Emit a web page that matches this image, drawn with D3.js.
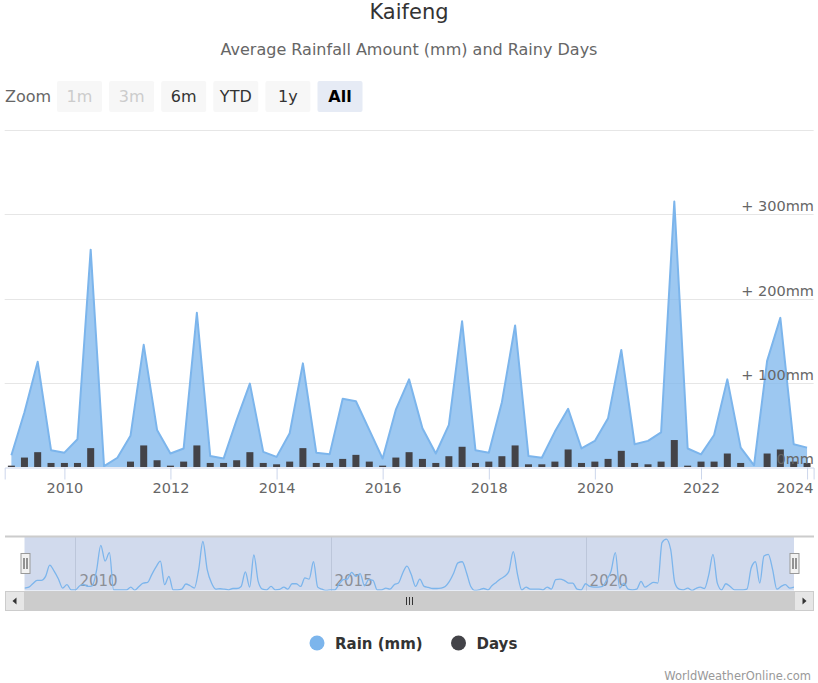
<!DOCTYPE html>
<html>
<head>
<meta charset="utf-8">
<script src="https://cdn.jsdelivr.net/npm/d3@7"></script>
<style>
  html, body { margin: 0; padding: 0; background: #fff; }
  svg { display: block; font-family: "DejaVu Sans", Verdana, sans-serif; }
</style>
</head>
<body>
<div id="chart"></div>
<script>
// ---- Data -------------------------------------------------------------
// quarterly points, Jan 2009 .. Jan 2024
const rainMm = [14, 65, 125, 20, 17, 33, 258, 1, 11, 37, 145, 44, 16, 22, 183,
  13, 10, 56, 99, 18, 12, 40, 123, 17, 15, 81, 78, 44, 10, 68, 104, 46, 16, 50,
  173, 20, 17, 77, 168, 13, 11, 42, 69, 22, 31, 58, 139, 27, 31, 41, 315, 22, 15,
  38, 104, 23, 2, 126, 177, 27, 23];
const rainyDays = [1, 7, 11, 3, 3, 3, 14, 0, 0, 4, 16, 5, 1, 4, 16, 3, 3, 5, 11,
  3, 2, 4, 14, 3, 3, 6, 9, 4, 1, 7, 11, 6, 3, 8, 15, 3, 4, 8, 16, 2, 2, 4, 13, 3,
  4, 6, 12, 3, 2, 4, 20, 1, 4, 4, 10, 3, 0, 10, 13, 4, 3];
// monthly rain shown in the navigator, Jan 2009 .. Feb 2024
const navRainMm = [
  18, 25, 50, 75, 75, 105, 188, 143, 85, 18, 43, 5,
  5, 35, 43, 30, 35, 150, 335, 218, 280, 5, 5, 5,
  5, 25, 3, 30, 55, 60, 118, 175, 218, 43, 105, 5,
  5, 10, 48, 35, 18, 155, 363, 155, 55, 10, 13, 10,
  5, 15, 15, 30, 138, 25, 263, 68, 10, 5, 30, 5,
  8, 25, 10, 50, 50, 30, 93, 85, 213, 25, 10, 0,
  5, 5, 43, 80, 85, 135, 105, 125, 35, 80, 75, 5,
  5, 18, 10, 43, 55, 130, 180, 118, 30, 85, 30, 23,
  15, 15, 18, 30, 68, 130, 205, 213, 130, 30, 0, 5,
  15, 5, 35, 60, 85, 105, 143, 288, 118, 5, 25, 10,
  10, 10, 5, 25, 10, 80, 85, 75, 55, 55, 10, 5,
  50, 30, 25, 25, 30, 80, 143, 280, 18, 55, 10, 5,
  10, 68, 25, 43, 60, 55, 355, 380, 305, 55, 10, 5,
  18, 0, 15, 25, 15, 118, 268, 55, 5, 50, 30, 5,
  5, 5, 10, 168, 213, 55, 255, 268, 155, 10, 30, 43,
  18, 25
];
const rainTicks = [0, 100, 200, 300, 400];
const yearTicks = [2010, 2012, 2014, 2016, 2018, 2020, 2022, 2024];
const navYearTicks = [2010, 2015, 2020];
const zoomButtons = ['1m', '3m', '6m', 'YTD', '1y', 'All'];
const seriesNames = ['Rain (mm)', 'Days'];

const quarters = d3.timeMonth.range(new Date(2009, 0, 1), new Date(2024, 1, 1), 3);
const months = d3.timeMonth.range(new Date(2009, 0, 1), new Date(2024, 2, 1));
const dataset = quarters.map((date, i) => ({ date, rain: rainMm[i], days: rainyDays[i] }));
const navData = months.map((date, i) => ({ date, rain: navRainMm[i] }));

const colors = { rain: '#7cb5ec', days: '#434348' };

// ---- Dimensions -------------------------------------------------------
const dimensions = {
  width: 818,
  height: 683,
  plot: { left: 4.7, right: 813.6, top: 130, bottom: 467 },
  nav: { left: 24.5, right: 794, top: 536.5, bottom: 590.5 }
};

const svg = d3.select('#chart')
  .append('svg')
  .attr('width', dimensions.width)
  .attr('height', dimensions.height);

// ---- Title ------------------------------------------------------------
svg.append('text')
  .attr('x', 409).attr('y', 19)
  .attr('text-anchor', 'middle')
  .attr('fill', '#333').style('font-size', '21px')
  .text('Kaifeng');

svg.append('text')
  .attr('x', 409).attr('y', 55)
  .attr('text-anchor', 'middle')
  .attr('fill', '#666').style('font-size', '16px')
  .text('Average Rainfall Amount (mm) and Rainy Days');

// ---- Range selector ---------------------------------------------------
svg.append('text')
  .attr('x', 5).attr('y', 102)
  .attr('fill', '#666').style('font-size', '16px')
  .text('Zoom');

const btn = svg.append('g')
  .selectAll('g')
  .data(zoomButtons)
  .join('g')
  .attr('transform', (d, i) => `translate(${57 + i * 52.1},81)`);

btn.append('rect')
  .attr('width', 45).attr('height', 31).attr('rx', 2)
  .attr('fill', d => d === 'All' ? '#e6ebf5' : '#f7f7f7');

btn.append('text')
  .attr('x', 22.5).attr('y', 21)
  .attr('text-anchor', 'middle')
  .style('font-size', '16px')
  .style('font-weight', d => d === 'All' ? 'bold' : 'normal')
  .attr('fill', d => (d === '1m' || d === '3m') ? '#cccccc' : (d === 'All' ? '#000' : '#333'))
  .text(d => d);

// ---- Scales -----------------------------------------------------------
const xScale = d3.scaleTime()
  .domain([new Date(2008, 10, 16), new Date(2024, 1, 15)])
  .range([dimensions.plot.left, dimensions.plot.right]);

const yRain = d3.scaleLinear()
  .domain([0, 400])
  .range([dimensions.plot.bottom, dimensions.plot.top]);

const yDays = d3.scaleLinear()
  .domain([0, 250])
  .range([dimensions.plot.bottom, dimensions.plot.top]);

// ---- Grid -------------------------------------------------------------
svg.append('g')
  .selectAll('line')
  .data(rainTicks.filter(d => d > 0))
  .join('line')
  .attr('x1', dimensions.plot.left).attr('x2', dimensions.plot.right)
  .attr('y1', d => Math.round(yRain(d)) + 0.5)
  .attr('y2', d => Math.round(yRain(d)) + 0.5)
  .attr('stroke', '#e6e6e6');

svg.append('clipPath').attr('id', 'plot-clip')
  .append('rect')
  .attr('x', dimensions.plot.left).attr('y', dimensions.plot.top - 5)
  .attr('width', dimensions.plot.right - dimensions.plot.left)
  .attr('height', dimensions.plot.bottom - dimensions.plot.top + 5);

const plot = svg.append('g').attr('clip-path', 'url(#plot-clip)');

// ---- Rain area --------------------------------------------------------
const area = d3.area()
  .x(d => xScale(d.date))
  .y0(yRain(0))
  .y1(d => yRain(d.rain));

const line = d3.line()
  .x(d => xScale(d.date))
  .y(d => yRain(d.rain));

plot.append('path')
  .datum(dataset)
  .attr('d', area)
  .attr('fill', colors.rain)
  .attr('fill-opacity', 0.75);

plot.append('path')
  .datum(dataset)
  .attr('d', line)
  .attr('fill', 'none')
  .attr('stroke', colors.rain)
  .attr('stroke-width', 2)
  .attr('stroke-linejoin', 'round');

// ---- Days columns -----------------------------------------------------
plot.append('g')
  .selectAll('rect')
  .data(dataset.filter(d => d.days > 0))
  .join('rect')
  .attr('x', d => xScale(d.date) - 3.5)
  .attr('width', 7)
  .attr('y', d => yDays(d.days))
  .attr('height', d => yDays(0) - yDays(d.days))
  .attr('fill', colors.days);

// ---- Axes -------------------------------------------------------------
const xAxis = d3.axisBottom(xScale)
  .tickValues(yearTicks.map(y => new Date(y, 0, 1)))
  .tickFormat(d3.timeFormat('%Y'))
  .tickSize(12)
  .tickPadding(3);

const xAxisGroup = svg.append('g')
  .attr('transform', `translate(0,${dimensions.plot.bottom + 0.5})`)
  .call(xAxis);

xAxisGroup.select('.domain').attr('stroke', '#ccd6eb');
xAxisGroup.selectAll('.tick line').attr('stroke', '#ccd6eb');
xAxisGroup.selectAll('.tick text')
  .attr('fill', '#666')
  .style('font-size', '14.5px')
  .style('font-family', '"DejaVu Sans", Verdana, sans-serif');

// keep the last year label inside the chart, as the reference does
xAxisGroup.selectAll('.tick')
  .filter(d => d.getFullYear() === yearTicks[yearTicks.length - 1])
  .select('text')
  .attr('text-anchor', 'end')
  .attr('x', d => 813 - xScale(d));

svg.append('g')
  .selectAll('text')
  .data(rainTicks.filter(d => d < 400))
  .join('text')
  .attr('x', 814)
  .attr('y', d => yRain(d) - 3)
  .attr('text-anchor', 'end')
  .attr('fill', '#666')
  .style('font-size', '14.5px')
  .text(d => d === 0 ? '0mm' : `+ ${d}mm`);

// ---- Navigator --------------------------------------------------------
const nav = dimensions.nav;
const xNav = d3.scaleTime()
  .domain(d3.extent(months))
  .range([nav.left, nav.right]);
const yNav = d3.scaleLinear()
  .domain([0, 400])
  .range([nav.bottom, nav.top]);

svg.append('rect')
  .attr('x', nav.left).attr('y', nav.top)
  .attr('width', nav.right - nav.left).attr('height', nav.bottom - nav.top)
  .attr('fill', 'rgba(102,133,194,0.3)');

svg.append('g')
  .selectAll('line')
  .data(navYearTicks)
  .join('line')
  .attr('x1', d => Math.round(xNav(new Date(d, 0, 1))) + 0.5)
  .attr('x2', d => Math.round(xNav(new Date(d, 0, 1))) + 0.5)
  .attr('y1', nav.top).attr('y2', nav.bottom)
  .attr('stroke', '#bcc6da');

svg.append('g')
  .selectAll('text')
  .data(navYearTicks)
  .join('text')
  .attr('x', d => xNav(new Date(d, 0, 1)) + 4)
  .attr('y', 586)
  .attr('fill', '#8c8f96')
  .style('font-size', '15px')
  .text(d => d);

svg.append('clipPath').attr('id', 'nav-clip')
  .append('rect')
  .attr('x', nav.left).attr('y', nav.top)
  .attr('width', nav.right - nav.left).attr('height', nav.bottom - nav.top);

svg.append('path')
  .datum(navData)
  .attr('clip-path', 'url(#nav-clip)')
  .attr('d', d3.line()
    .x(d => xNav(d.date))
    .y(d => yNav(d.rain))
    .curve(d3.curveMonotoneX))
  .attr('fill', 'none')
  .attr('stroke', colors.rain)
  .attr('stroke-width', 1.3);

svg.append('line')
  .attr('x1', 5).attr('x2', 814)
  .attr('y1', nav.top).attr('y2', nav.top)
  .attr('stroke', '#cccccc').attr('stroke-width', 2);

// handles
const handle = svg.append('g')
  .selectAll('g')
  .data([nav.left, nav.right])
  .join('g')
  .attr('transform', d => `translate(${Math.round(d) - 4.5},553)`);

handle.append('rect')
  .attr('x', 0.5).attr('y', 0.5)
  .attr('width', 9).attr('height', 20)
  .attr('fill', '#f2f2f2').attr('stroke', '#999');

handle.selectAll('line')
  .data([3.5, 6.5])
  .join('line')
  .attr('x1', d => d).attr('x2', d => d)
  .attr('y1', 5).attr('y2', 16)
  .attr('stroke', '#333');

// scrollbar
const sb = { top: 591, h: 20 };
svg.append('rect')
  .attr('x', 5).attr('y', sb.top)
  .attr('width', 809).attr('height', sb.h)
  .attr('fill', '#f2f2f2');

svg.append('rect')
  .attr('x', nav.left).attr('y', sb.top)
  .attr('width', nav.right - nav.left).attr('height', sb.h)
  .attr('fill', '#cccccc');

svg.append('g')
  .selectAll('line')
  .data([-3, 0, 3])
  .join('line')
  .attr('x1', d => 409.5 + d).attr('x2', d => 409.5 + d)
  .attr('y1', sb.top + 6).attr('y2', sb.top + 14)
  .attr('stroke', '#333');

const sbButtons = svg.append('g')
  .selectAll('g')
  .data([{ x: 5, dir: -1 }, { x: nav.right, dir: 1 }])
  .join('g')
  .attr('transform', d => `translate(${d.x},${sb.top})`);

sbButtons.append('rect')
  .attr('x', 0.5).attr('y', 0.5)
  .attr('width', 19).attr('height', sb.h - 1)
  .attr('fill', '#e6e6e6').attr('stroke', '#cccccc');

sbButtons.append('path')
  .attr('d', d => d.dir < 0
    ? 'M11.5,6.5 L7.5,10 L11.5,13.5 Z'
    : 'M8.5,6.5 L12.5,10 L8.5,13.5 Z')
  .attr('fill', '#333');

// ---- Legend -----------------------------------------------------------
const legend = svg.append('g')
  .selectAll('g')
  .data(seriesNames)
  .join('g')
  .attr('transform', (d, i) => `translate(${i === 0 ? 317 : 458.5},643)`);

legend.append('circle')
  .attr('r', 7.5)
  .attr('fill', (d, i) => i === 0 ? colors.rain : colors.days);

legend.append('text')
  .attr('x', 18).attr('y', 5.5)
  .attr('fill', '#333')
  .style('font-size', '15px')
  .style('font-weight', 'bold')
  .text(d => d);

// ---- Credit -----------------------------------------------------------
svg.append('text')
  .attr('x', 811).attr('y', 680)
  .attr('text-anchor', 'end')
  .attr('fill', '#999')
  .style('font-size', '11.5px')
  .text('WorldWeatherOnline.com');
</script>
</body>
</html>
